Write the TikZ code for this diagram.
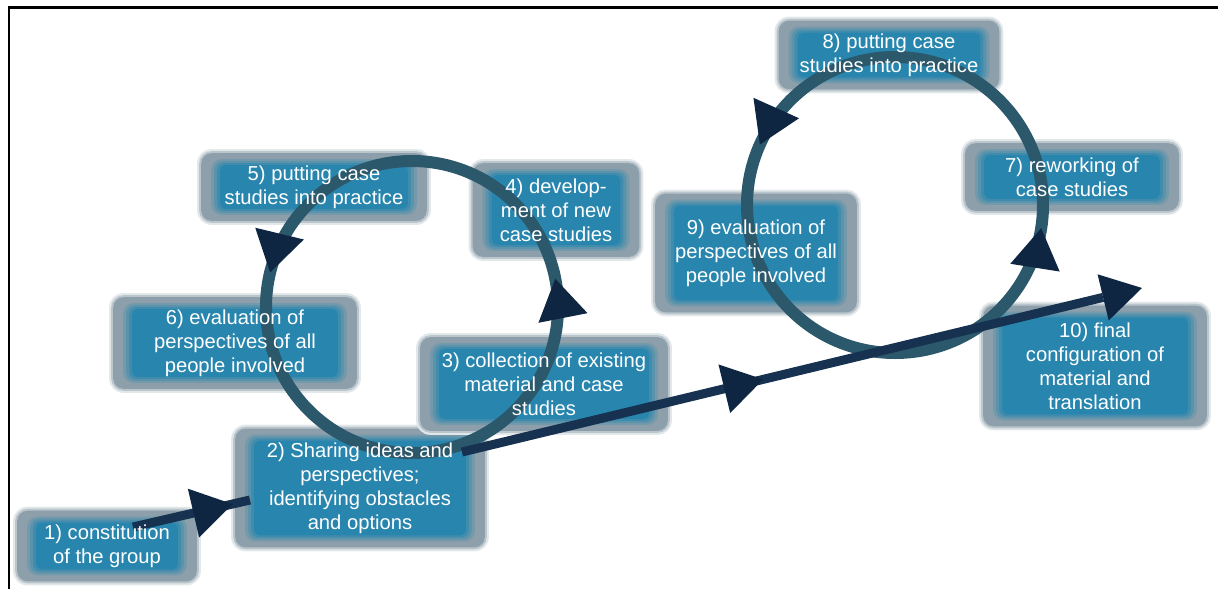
\documentclass[tikz,border=0pt]{standalone}
\usepackage{fontspec}
\setmainfont{Liberation Sans}
\usetikzlibrary{arrows.meta,decorations.markings}

\definecolor{boxgray}{RGB}{140,159,170}
\definecolor{boxblue}{RGB}{40,134,174}
\definecolor{ringcol}{RGB}{44,88,108}
\definecolor{headcol}{RGB}{14,38,66}
\definecolor{linkcol}{RGB}{22,50,80}

\pgfdeclarelayer{background}
\pgfdeclarelayer{mid}
\pgfsetlayers{background,mid,main}

\tikzset{
  stage/.style={text=white, align=center, inner sep=0pt,
    font=\fontsize{11.5}{13.7}\selectfont},
  ring/.style={draw=ringcol, line width=0.24cm},
  link/.style={draw=linkcol, line width=0.18cm},
  headat/.style={postaction={decorate, decoration={markings,
    mark=at position #1 with {\arrow[headcol]{Triangle[length=0.8cm,width=1cm,line width=0pt]}}}}},
}

\begin{document}
\begin{tikzpicture}[x=0.02cm, y=-0.02cm]
\useasboundingbox (0,0) rectangle (1218,589);

\draw[line width=0.06cm] (9,589) -- (9,7) -- (1218,7);

\node[stage, minimum width=3.62cm, minimum height=1.44cm] (s1) at (107,546) {1) constitution\\of the group};
\node[stage, minimum width=5.02cm, minimum height=2.4cm] (s2) at (360,488) {2) Sharing ideas and\\perspectives;\\identifying obstacles\\and options};
\node[stage, minimum width=4.98cm, minimum height=1.9cm] (s3) at (544,384) {3) collection of existing\\material and case\\studies};
\node[stage, minimum width=3.36cm, minimum height=1.9cm] (s4) at (556,210) {4) develop-\\ment of new\\case studies};
\node[stage, minimum width=4.54cm, minimum height=1.38cm] (s5) at (314,187) {5) putting case\\studies into practice};
\node[stage, minimum width=4.9cm, minimum height=1.86cm] (s6) at (235,343) {6) evaluation of\\perspectives of all\\people involved};
\node[stage, minimum width=4.3cm, minimum height=1.38cm] (s7) at (1072,177) {7) reworking of\\case studies};
\node[stage, minimum width=4.44cm, minimum height=1.4cm] (s8) at (889,55) {8) putting case\\studies into practice};
\node[stage, minimum width=4.06cm, minimum height=2.4cm] (s9) at (756,253) {9) evaluation of\\perspectives of all\\people involved};
\node[stage, minimum width=4.5cm, minimum height=2.44cm] (s10) at (1095,366) {10) final\\configuration of\\material and\\translation};

\begin{pgfonlayer}{background}
\foreach \i in {1,...,10} {
  \fill[boxgray!25!white, rounded corners=8pt] ([shift={(-3,3)}]s\i.south west) rectangle ([shift={(3,-3)}]s\i.north east);
  \fill[boxgray!60!white, rounded corners=7pt] ([shift={(-1,1)}]s\i.south west) rectangle ([shift={(1,-1)}]s\i.north east);
  \fill[boxgray, rounded corners=6pt] ([shift={(1,-1)}]s\i.south west) rectangle ([shift={(-1,1)}]s\i.north east);
  \fill[boxblue!25!boxgray, rounded corners=6pt] ([shift={(11,-7)}]s\i.south west) rectangle ([shift={(-11,7)}]s\i.north east);
  \fill[boxblue!50!boxgray, rounded corners=5pt] ([shift={(14,-9)}]s\i.south west) rectangle ([shift={(-14,9)}]s\i.north east);
  \fill[boxblue!75!boxgray, rounded corners=4pt] ([shift={(17,-11)}]s\i.south west) rectangle ([shift={(-17,11)}]s\i.north east);
  \fill[boxblue, rounded corners=3pt] ([shift={(20,-13)}]s\i.south west) rectangle ([shift={(-20,13)}]s\i.north east);
}
\end{pgfonlayer}

\begin{pgfonlayer}{mid}
\coordinate (ringA) at (412,307);
\coordinate (ringB) at (895,205);
\draw[ring, headat=0.281, headat=0.712] (ringA) ++(90:146) arc[start angle=90, end angle=-270, radius=146];
\draw[ring, headat=0.225, headat=0.683] (ringB) ++(90:148) arc[start angle=90, end angle=-270, radius=148];

\draw[link, headat=0.85] ([shift={(26,-19)}]s1.center) -- ([shift={(-110,12)}]s2.center);
\draw[link, headat=0.443, -{Triangle[length=0.8cm,width=0.95cm,line width=0pt,color=headcol]}]
  ([shift={(102,-36)}]s2.center) -- ([shift={(47,-78)}]s10.center);
\end{pgfonlayer}

\end{tikzpicture}
\end{document}
